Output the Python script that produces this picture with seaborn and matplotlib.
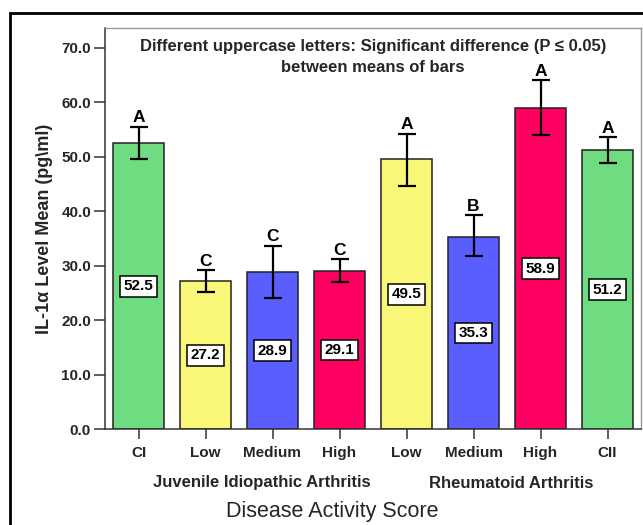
import matplotlib
matplotlib.use("Agg")
import matplotlib.pyplot as plt
import matplotlib.patches as mpatches
import matplotlib.transforms as mtransforms
import seaborn as sns
import pandas as pd

# ---- data ----
keys = ["CI", "JIA Low", "JIA Medium", "JIA High", "RA Low", "RA Medium", "RA High", "CII"]
tick_labels = ["CI", "Low", "Medium", "High", "Low", "Medium", "High", "CII"]
means = [52.5, 27.2, 28.9, 29.1, 49.5, 35.3, 58.9, 51.2]
err_up = [3.0, 2.0, 4.8, 2.1, 4.7, 4.0, 5.1, 2.4]
err_down = [3.0, 2.0, 4.8, 2.0, 4.9, 3.6, 5.0, 2.4]
letters = ["A", "C", "C", "C", "A", "B", "A", "A"]
colors = ["#70dc82", "#f9f777", "#5a5eff", "#ff0062", "#f9f777", "#5a5eff", "#ff0062", "#70dc82"]
y_ticks = [0, 10, 20, 30, 40, 50, 60, 70]
groups = ["Juvenile Idiopathic Arthritis", "Rheumatoid Arthritis"]
group_pos = [1.84, 5.56]
title_lines = ["Different uppercase letters: Significant difference (P \u2264 0.05)",
               "between means of bars"]

df = pd.DataFrame({"key": keys, "mean": means})

sns.set_theme(style="white")
plt.rcParams["font.family"] = ["Liberation Sans", "DejaVu Sans"]

W, H = 643, 525
fig = plt.figure(figsize=(W / 100, H / 100), dpi=100)
fig.patch.set_facecolor("white")
ax = fig.add_axes([105 / W, 1 - 429.3 / H, (641 - 105) / W, (429.3 - 28) / H])

sns.barplot(data=df, x="key", y="mean", hue="key", order=keys, hue_order=keys,
            palette=colors, legend=False, width=0.76, edgecolor="#222222",
            linewidth=1.1, errorbar=None, ax=ax, saturation=1)

xs = list(range(len(keys)))
ax.errorbar(xs, means, yerr=[err_down, err_up], fmt="none", ecolor="black",
            elinewidth=1.6, capsize=6.2, capthick=1.6, zorder=5)

for i, (m, u, l) in enumerate(zip(means, err_up, letters)):
    ax.annotate(l, (i, m + u), xytext=(0, 1.0), textcoords="offset points",
                ha="center", va="bottom", fontsize=12.5, fontweight="bold",
                color="black", zorder=6)
    ax.text(i, m / 2, f"{m:.1f}", ha="center", va="center", fontsize=11,
            fontweight="bold", color="black", zorder=6,
            bbox=dict(boxstyle="square,pad=0.22", facecolor="white",
                      edgecolor="black", linewidth=1.1))

ax.set_xlim(-0.5, 7.5)
ax.set_ylim(0, 73.6)
ax.set_yticks(y_ticks)
ax.set_yticklabels([f"{v:.1f}" for v in y_ticks], fontsize=11, fontweight="bold")
ax.set_xticks(xs)
ax.set_xticklabels(tick_labels, fontsize=11, fontweight="bold")
ax.tick_params(axis="y", length=8, width=1.1, color="#333333", pad=2, left=True)
ax.tick_params(axis="x", length=7.5, width=1.1, color="#333333", pad=4.5, bottom=True)
ax.set_xlabel("")
ax.set_ylabel("IL-1\u03b1 Level Mean (pg\\ml)", fontsize=13, fontweight="bold", labelpad=6)

for side in ["top", "right"]:
    ax.spines[side].set_color("#9a9a9a")
    ax.spines[side].set_linewidth(1.0)
for side in ["left", "bottom"]:
    ax.spines[side].set_color("#333333")
    ax.spines[side].set_linewidth(1.1)

ax.text(0.5, (429.3 - 47) / 401.3, title_lines[0], transform=ax.transAxes,
        ha="center", va="center", fontsize=12, fontweight="bold")
ax.text(0.5, (429.3 - 67.5) / 401.3, title_lines[1], transform=ax.transAxes,
        ha="center", va="center", fontsize=12, fontweight="bold")

trans = mtransforms.blended_transform_factory(ax.transData, fig.transFigure)
for g, p in zip(groups, group_pos):
    ax.text(p, 1 - 483 / H, g, transform=trans, ha="center", va="center",
            fontsize=12, fontweight="bold")

fig.text(332 / W, 1 - 512 / H, "Disease Activity Score", ha="center", va="center",
         fontsize=15.5)

frame = mpatches.Rectangle((10 / W, -0.1), 1.2, 1 - 13 / H + 0.1,
                           transform=fig.transFigure, fill=False,
                           edgecolor="black", linewidth=2, clip_on=False)
fig.patches.append(frame)

fig.savefig("out.png", dpi=100)
